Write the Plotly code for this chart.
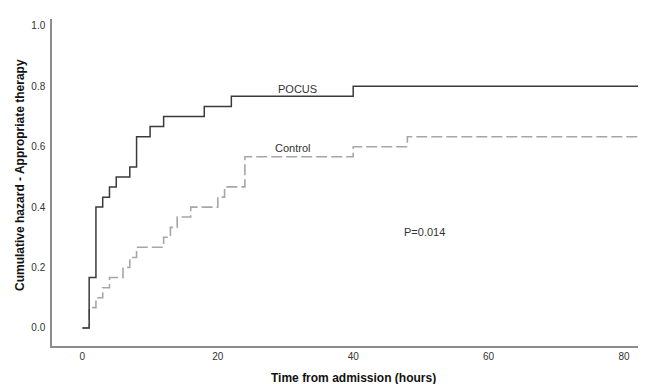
import plotly.graph_objects as go

# Data (hours, cumulative hazard)
pocus_time = [0, 1, 2, 3, 4, 5, 7, 8, 10, 12, 18, 22, 40, 84]
pocus_value = [0.0, 0.167, 0.400, 0.433, 0.467, 0.500, 0.533, 0.633, 0.667, 0.700, 0.733, 0.767, 0.800, 0.800]

control_time = [0, 1, 2, 3, 4, 6, 7, 8, 12, 13, 14, 16, 20, 21, 24, 40, 48, 84]
control_value = [0.0, 0.067, 0.100, 0.133, 0.167, 0.200, 0.233, 0.267, 0.300, 0.333, 0.367,
                 0.400, 0.433, 0.467, 0.567, 0.600, 0.633, 0.633]

x_ticks = [0, 20, 40, 60, 80]
y_ticks = [0.0, 0.2, 0.4, 0.6, 0.8, 1.0]
y_tick_labels = ["0.0", "0.2", "0.4", "0.6", "0.8", "1.0"]

FONT = "Liberation Sans, Arial, sans-serif"

fig = go.Figure()
fig.add_trace(go.Scatter(
    x=control_time, y=control_value, mode="lines", line_shape="hv",
    line=dict(color="#a6a6a6", width=1.6, dash="11px,4px"), name="Control",
    showlegend=False,
))
fig.add_trace(go.Scatter(
    x=pocus_time, y=pocus_value, mode="lines", line_shape="hv",
    line=dict(color="#3a3a3a", width=1.5), name="POCUS",
    showlegend=False,
))

fig.add_annotation(x=31.7, y=0.79, text="POCUS", showarrow=False,
                   font=dict(family=FONT, size=11, color="#333333"))
fig.add_annotation(x=31.1, y=0.597, text="Control", showarrow=False,
                   font=dict(family=FONT, size=11, color="#333333"))
fig.add_annotation(x=50.5, y=0.316, text="P=0.014", showarrow=False,
                   font=dict(family=FONT, size=11, color="#333333"))

# Axis titles placed as paper annotations for exact positioning
fig.add_annotation(xref="paper", yref="paper", x=0, y=0.523, xshift=-32,
                   text="<b>Cumulative hazard - Appropriate therapy</b>", textangle=-90,
                   showarrow=False, xanchor="center", yanchor="middle",
                   font=dict(family=FONT, size=12, color="#111111"))
fig.add_annotation(xref="paper", yref="paper", x=0.507, y=0, yshift=-32,
                   text="<b>Time from admission (hours)</b>",
                   showarrow=False, xanchor="center", yanchor="middle",
                   font=dict(family=FONT, size=12, color="#111111"))

# The page body adds an 8px offset; margins compensate so the plot area
# sits at x 52..646, y 19..346 in the screenshot.
fig.update_layout(
    width=646, height=384,
    margin=dict(l=44, r=8, t=11, b=46),
    paper_bgcolor="white", plot_bgcolor="white",
    font=dict(family=FONT, color="#333333"),
    showlegend=False,
)
fig.update_xaxes(
    range=[-4.49, 83.25], tickvals=x_ticks, ticktext=[str(v) for v in x_ticks],
    showgrid=False, zeroline=False, showline=True, linecolor="#8c8c8c", linewidth=1.5,
    ticks="", automargin=False, tickfont=dict(family=FONT, size=10, color="#333333"),
)
fig.update_yaxes(
    range=[-0.06, 1.023], tickvals=y_ticks, ticktext=y_tick_labels,
    showgrid=False, zeroline=False, showline=True, linecolor="#8c8c8c", linewidth=1.5,
    ticks="", automargin=False, ticklabelstandoff=3,
    tickfont=dict(family=FONT, size=10, color="#333333"),
)

fig.write_html("out.html")
